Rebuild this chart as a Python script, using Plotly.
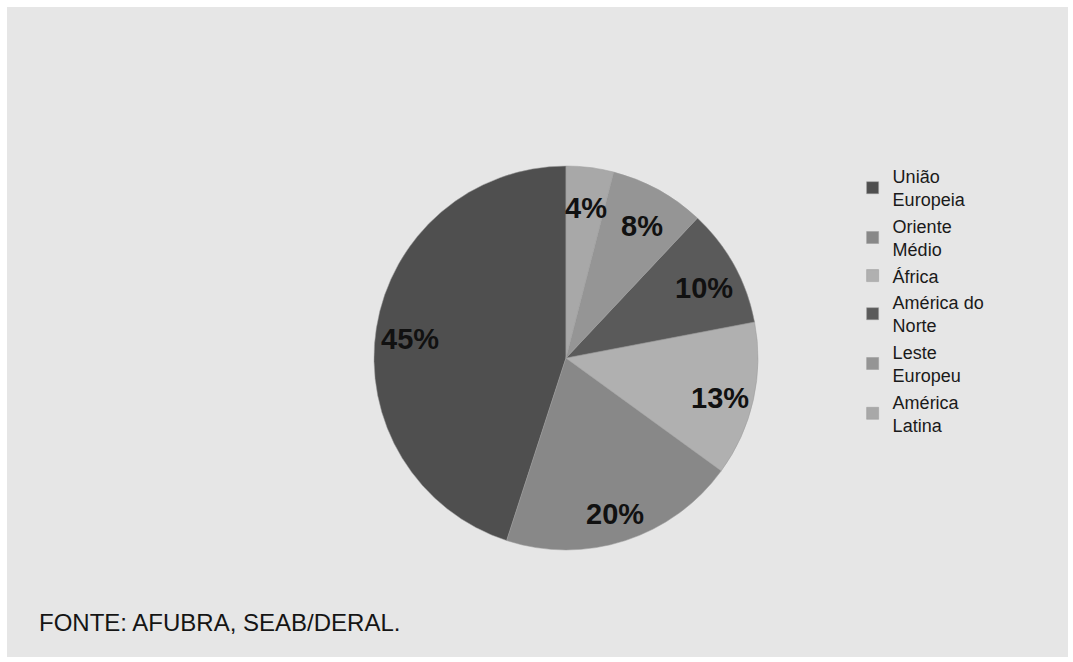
import math
import plotly.graph_objects as go

labels = ["União<br>Europeia", "Oriente<br>Médio", "África", "América do<br>Norte", "Leste<br>Europeu", "América<br>Latina"]
values = [45, 20, 13, 10, 8, 4]
text_labels = ["45%", "20%", "13%", "10%", "8%", "4%"]
colors = ["#4f4f4f", "#888888", "#b0b0b0", "#5a5a5a", "#959595", "#a8a8a8"]

W, H = 1073, 662
M = dict(l=7, r=5, t=7, b=5)
pw, ph = W - M["l"] - M["r"], H - M["t"] - M["b"]
dom_x = [0.3459, 0.7078]
dom_y = [0.1646, 0.7554]

total = sum(values)
# Plotly's counterclockwise pie ends the first slice at the rotation+value angle; shift so
# the first slice starts at 12 o'clock and runs counterclockwise (to the left).
rotation = -values[0] / total * 360

fig = go.Figure()
fig.add_trace(go.Pie(
    labels=labels,
    values=values,
    textinfo="none",
    sort=False,
    direction="counterclockwise",
    rotation=rotation,
    marker=dict(colors=colors, line=dict(color="#9a9a9a", width=0.5)),
    domain=dict(x=dom_x, y=dom_y),
    hoverinfo="label+percent",
))

# percentage labels placed along each slice's mid-angle
cx = (dom_x[0] + dom_x[1]) / 2
cy = (dom_y[0] + dom_y[1]) / 2
radius_px = min((dom_x[1] - dom_x[0]) * pw, (dom_y[1] - dom_y[0]) * ph) / 2
annotations = []
cum = 0.0
for val, txt in zip(values, text_labels):
    mid = (cum + val / 2) / total * 2 * math.pi  # counterclockwise from top
    cum += val
    dx = -math.sin(mid) * 0.82 * radius_px
    dy = math.cos(mid) * 0.82 * radius_px
    annotations.append(dict(
        text="<b>" + txt + "</b>", xref="paper", yref="paper",
        x=cx + dx / pw, y=cy + dy / ph - 6 / ph, xanchor="center", yanchor="middle",
        showarrow=False, font=dict(family="Liberation Sans", size=29, color="#111111")))

annotations.append(dict(
    text="FONTE: AFUBRA, SEAB/DERAL.", xref="paper", yref="paper",
    x=(37 - M["l"]) / pw, y=(H - M["b"] - 622) / ph, xanchor="left", yanchor="middle",
    showarrow=False, font=dict(family="Liberation Sans", size=24, color="#151515")))

fig.update_layout(
    width=W, height=H,
    margin=M,
    paper_bgcolor="white",
    plot_bgcolor="#e6e6e6",
    font=dict(family="Liberation Sans", color="#111111"),
    legend=dict(
        x=0.797, y=0.768, xanchor="left", yanchor="top",
        font=dict(family="Liberation Sans", size=18, color="#1a1a1a"),
        bgcolor="rgba(0,0,0,0)",
        traceorder="normal",
    ),
    shapes=[dict(type="rect", xref="paper", yref="paper", x0=0, y0=0, x1=1, y1=1,
                 fillcolor="#e6e6e6", line=dict(width=0), layer="below")],
    annotations=annotations,
)

fig.write_html("out.html")
